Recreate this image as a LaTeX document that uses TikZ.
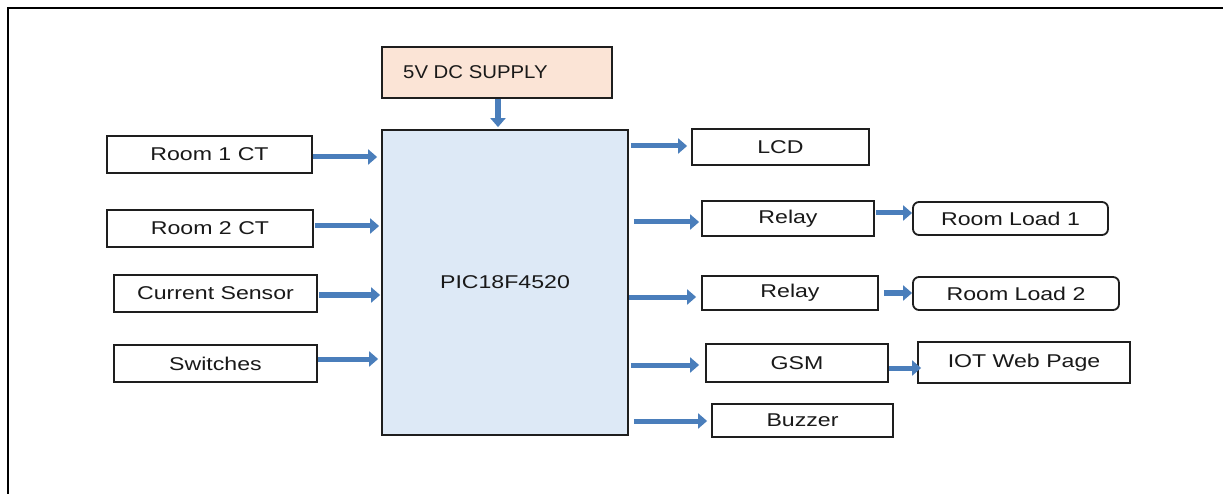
\documentclass[tikz,border=0pt]{standalone}
\usepackage{fontspec}
\setmainfont{Liberation Sans}[FakeStretch=1.25]
\newfontfamily\supfont{Liberation Sans}[FakeStretch=1.1]
\usetikzlibrary{arrows.meta}
\definecolor{arrowblue}{RGB}{74,126,187}
\definecolor{supfill}{RGB}{251,228,214}
\definecolor{mcufill}{RGB}{221,233,246}
\definecolor{txt}{RGB}{25,25,25}
\definecolor{edge}{RGB}{30,30,30}
\tikzset{
  blk/.style={draw=edge, line width=1.8pt, fill=white, inner sep=0pt, text=txt,
    font=\fontsize{18.5}{20}\selectfont},
  rblk/.style={blk, rounded corners=6pt},
  arr/.style={draw=arrowblue, line width=5pt,
    -{Triangle[length=9pt,width=15pt]}},
}
\begin{document}
\begin{tikzpicture}[x=1pt,y=-1pt]
\useasboundingbox (0,0) rectangle (1223,494);
\draw[line width=2pt] (8,494) -- (8,8) -- (1223,8);

% left inputs
\node[blk, minimum width=205pt, minimum height=37pt] (r1ct) at (209.5,154.5) {Room 1 CT};
\node[blk, minimum width=206pt, minimum height=37pt] (r2ct) at (210,228.5) {Room 2 CT};
\node[blk, minimum width=203pt, minimum height=37pt] (cs) at (215.5,293.5) {Current Sensor};
\node[blk, minimum width=203pt, minimum height=37pt] (sw) at (215.5,363.5) {Switches};

% controller and supply
\node[blk, fill=mcufill, minimum width=246pt, minimum height=305pt] (mcu) at (505,282.5) {PIC18F4520};
\node[blk, fill=supfill, minimum width=230pt, minimum height=51pt] (sup) at (497,72.5) {};
\node[anchor=west, inner sep=0pt, text=txt, font=\supfont\fontsize{18.5}{20}\selectfont] (suptxt) at (403,72) {5V DC SUPPLY};

% outputs
\node[blk, minimum width=177pt, minimum height=36pt] (lcd) at (780.5,147) {LCD};
\node[blk, minimum width=172pt, minimum height=35pt] (rel1) at (788,218.5) {Relay};
\node[rblk, minimum width=195pt, minimum height=33pt] (load1) at (1010.5,218.5) {Room Load 1};
\node[blk, minimum width=176pt, minimum height=34pt] (rel2) at (790,293) {Relay};
\node[rblk, minimum width=206pt, minimum height=33pt] (load2) at (1016,293.5) {Room Load 2};
\node[blk, minimum width=182pt, minimum height=38pt] (gsm) at (797,363) {GSM};
\node[blk, minimum width=212pt, minimum height=41pt] (iot) at (1024,362.5) {IOT Web Page};
\node[blk, minimum width=181pt, minimum height=33pt] (buz) at (802.5,420.5) {Buzzer};

% arrows in
\draw[arr, shorten >=4pt] (r1ct.east |- 0,157) -- (mcu.west |- 0,157);
\draw[arr, shorten >=2pt, shorten <=1pt] (r2ct.east |- 0,226) -- (mcu.west |- 0,226);
\draw[arr, shorten >=1pt, shorten <=1pt] (cs.east |- 0,295) -- (mcu.west |- 0,295);
\draw[arr, shorten >=3pt] (sw.east |- 0,359) -- (mcu.west |- 0,359);
\draw[arr, line width=6pt, shorten >=2pt] (sup.south -| 0,0) ++(498,0) coordinate (supbot) -- (mcu.north -| supbot);

% arrows out
\draw[arr, shorten <=2pt, shorten >=4pt] (mcu.east |- 0,146) -- (lcd.west |- 0,146);
\draw[arr, shorten <=5pt, shorten >=2pt] (mcu.east |- 0,222) -- (rel1.west |- 0,222);
\draw[arr, shorten >=5pt] (mcu.east |- 0,297) -- (rel2.west |- 0,297);
\draw[arr, shorten <=2pt, shorten >=6pt] (mcu.east |- 0,365) -- (gsm.west |- 0,365);
\draw[arr, shorten <=5pt, shorten >=4pt] (mcu.east |- 0,421) -- (buz.west |- 0,421);
\draw[arr, shorten <=1pt] (rel1.east |- 0,213) -- (load1.west |- 0,213);
\draw[arr, shorten <=5pt] (rel2.east |- 0,293) -- (load2.west |- 0,293);
\draw[arr, shorten >=-4pt] (gsm.east |- 0,368) -- (iot.west |- 0,368);
\end{tikzpicture}
\end{document}
